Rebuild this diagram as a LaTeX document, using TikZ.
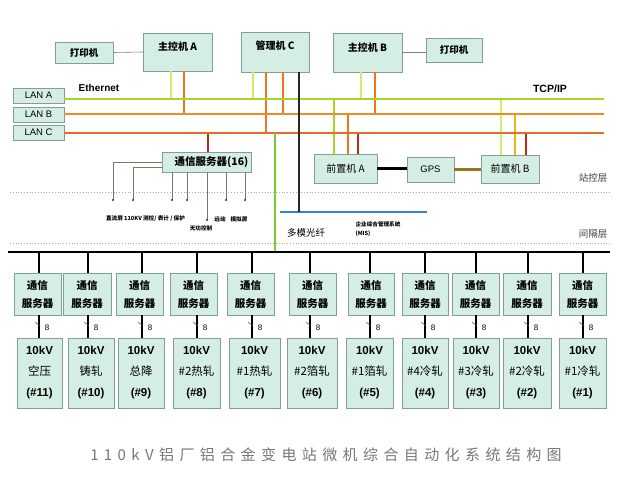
\documentclass[tikz,border=0pt]{standalone}
\usepackage{fontspec}
\setmainfont{Liberation Sans}
\newfontfamily\cjk{Noto Sans CJK SC}
\newfontfamily\cjktitle[LetterSpace=36]{Noto Sans CJK SC}
\definecolor{boxfill}{RGB}{212,238,228}
\definecolor{boxdraw}{RGB}{130,160,145}
\definecolor{lanAc}{RGB}{165,215,40}
\definecolor{lanBc}{RGB}{240,140,40}
\definecolor{lanCc}{RGB}{232,108,35}
\definecolor{ygc}{RGB}{212,234,105}
\definecolor{orc}{RGB}{240,118,30}
\definecolor{drc}{RGB}{178,48,20}
\definecolor{yoc}{RGB}{245,178,30}
\definecolor{grc}{RGB}{120,205,50}
\definecolor{bluec}{RGB}{50,130,220}
\definecolor{dotc}{RGB}{175,175,140}
\definecolor{thinc}{RGB}{120,120,100}
\definecolor{gpsc}{RGB}{150,118,30}
\definecolor{titlec}{RGB}{120,120,120}
\newcommand\mybox[6]{\node[box, minimum width={#4-#2}, minimum height={#5-#3}] (#1) at ({(#2+#4)/2},{(#3+#5)/2}) {#6};}
\begin{document}
\begin{tikzpicture}[x=1pt,y=-1pt,
  box/.style={draw=boxdraw, fill=boxfill, line width=0.7pt, inner sep=0pt, outer sep=0pt},
  cjkb/.style={font=\cjk\bfseries\fontsize{10}{12}\selectfont},
  lanline/.style={line width=2.3pt},
  vline/.style={line width=1.5pt},
  thinline/.style={draw=thinc, line width=0.5pt},
  dotline/.style={draw=dotc, line width=0.8pt, dotted},
  busdrop/.style={draw=black, line width=1.4pt},
  lbl/.style={font=\cjk\fontsize{9.5}{11}\selectfont, text=black!75, inner sep=0pt},
  tiny/.style={font=\cjk\bfseries\fontsize{5.6}{6}\selectfont, inner sep=0pt}]
\useasboundingbox[fill=white] (0,0) rectangle (622,487);

% layer lines
\draw[dotline] (10,192) -- (610,192);
\draw[dotline] (10,243) -- (610,243);

% top boxes
\mybox{prnA}{55}{42}{113}{63}{}
\mybox{mainA}{143}{33}{212}{71}{}
\mybox{mgrC}{241}{32}{309}{72}{}
\mybox{mainB}{333}{33}{402}{72}{}
\mybox{prnB}{426}{38}{482}{62}{}
\node[cjkb, font=\cjk\bfseries\fontsize{9.5}{11}\selectfont] at (prnA.center) {打印机};
\node[cjkb] at ([yshift=5]mainA.center) {主控机 A};
\node[cjkb] at ([yshift=6]mgrC.center) {管理机 C};
\node[cjkb] at ([yshift=5]mainB.center) {主控机 B};
\node[cjkb, font=\cjk\bfseries\fontsize{9.5}{11}\selectfont] at (prnB.center) {打印机};
\draw[draw=gray, line width=0.6pt] (prnA.east) -- (mainA.west);
\draw[draw=gray, line width=0.6pt] (mainB.east) -- (mainB.east -| prnB.west);

% LAN boxes
\mybox{lanA}{13}{88}{64}{103}{\fontsize{9.5}{11}\selectfont LAN A}
\mybox{lanB}{13}{107}{64}{122}{\fontsize{9.5}{11}\selectfont LAN B}
\mybox{lanC}{13}{125}{64}{140}{\fontsize{9.5}{11}\selectfont LAN C}
\coordinate (eA) at (604,99);
\coordinate (eB) at (604,114);
\coordinate (eC) at (604,133);
\node[font=\bfseries\fontsize{10}{12}\selectfont, inner sep=0pt] (eth) at (99,88) {Ethernet};
\node[font=\bfseries\fontsize{10.5}{12}\selectfont, inner sep=0pt] (tcp) at (550,89) {TCP/IP};

% middle boxes
\mybox{comm}{162}{152}{251}{172}{}
\node[cjkb, font=\cjk\bfseries\fontsize{10.5}{12}\selectfont] at ([xshift=5]comm.center) {通信服务器(16)};
\mybox{fepA}{314}{154}{377}{183}{\cjk\fontsize{10}{12}\selectfont 前置机 A}
\mybox{gps}{407}{157}{454}{182}{\fontsize{9.5}{11}\selectfont GPS}
\mybox{fepB}{481}{155}{539}{183}{\cjk\fontsize{10}{12}\selectfont 前置机 B}

% verticals into LANs
\draw[vline, draw=ygc] ([xshift=-6.5]mainA.south) -- ([xshift=-6.5]mainA.south |- eA);
\draw[vline, draw=orc] ([xshift=6.5]mainA.south) -- ([xshift=6.5]mainA.south |- eB);
\draw[vline, draw=ygc] ([xshift=-22]mgrC.south) -- ([xshift=-22]mgrC.south |- eA);
\draw[vline, draw=orc] ([xshift=-9]mgrC.south) -- ([xshift=-9]mgrC.south |- eC);
\draw[vline, draw=orc] ([xshift=8]mgrC.south) -- ([xshift=8]mgrC.south |- eB);
\draw[vline, draw=ygc] ([xshift=-6.5]mainB.south) -- ([xshift=-6.5]mainB.south |- eA);
\draw[vline, draw=orc] ([xshift=7.5]mainB.south) -- ([xshift=7.5]mainB.south |- eB);
\draw[vline, draw=lanAc] ([xshift=-11.5]fepA.north) -- ([xshift=-11.5]fepA.north |- eA);
\draw[vline, draw=orc] ([xshift=2.5]fepA.north) -- ([xshift=2.5]fepA.north |- eB);
\draw[vline, draw=drc] ([xshift=12.5]fepA.north) -- ([xshift=12.5]fepA.north |- eC);
\draw[vline, draw=ygc] ([xshift=-9]fepB.north) -- ([xshift=-9]fepB.north |- eA);
\draw[vline, draw=yoc] ([xshift=5]fepB.north) -- ([xshift=5]fepB.north |- eB);
\draw[vline, draw=drc] ([xshift=16]fepB.north) -- ([xshift=16]fepB.north |- eC);
\draw[vline, draw=drc] ([xshift=1.5]comm.north) -- ([xshift=1.5]comm.north |- eC);

% LAN lines
\draw[lanline, draw=lanAc] (lanA.east |- eA) -- (eA);
\draw[lanline, draw=lanBc] (lanB.east |- eB) -- (eB);
\draw[lanline, draw=lanCc] (lanC.east |- eC) -- (eC);

% bus, blue fibre line, green and black verticals
\coordinate (busL) at (8,252);
\coordinate (busR) at (610,252);
\coordinate (blueL) at (280,212);
\coordinate (blueR) at (427,212);
\draw[line width=2pt, draw=bluec] (blueL) -- (blueR);
\draw[line width=1.7pt, draw=black!85] ([xshift=24]mgrC.south) -- ([xshift=24]mgrC.south |- blueL);
\draw[line width=1.5pt, draw=grc] (mgrC.south |- eC) -- (mgrC.south |- busL);
\draw[line width=2.2pt, draw=black] (busL) -- (busR);

% GPS links
\draw[line width=2.4pt, draw=black] (fepA.east) -- (fepA.east -| gps.west);
\draw[line width=2.4pt, draw=gpsc] (gps.east) -- (gps.east -| fepB.west);

% comm server signal lines
\coordinate (d1) at (113,200);
\coordinate (d2) at (133,200);
\coordinate (d3) at (172,200);
\coordinate (d4) at (187,200);
\coordinate (d5) at (207,220);
\coordinate (d6) at (226,200);
\coordinate (d7) at (245,200);
\draw[thinline] (comm.west) -| (d1);
\draw[thinline] ([yshift=-5]comm.west) -| (d2);
\foreach \d in {d3,d4,d5,d6,d7} {\draw[thinline] (comm.south -| \d) -- (\d);}
\foreach \d in {d1,d2,d3,d4,d5,d6,d7} {\fill[black!80] (\d) circle (1.1);}
\node[tiny] at (145.5,219) {直流屏 110KV 测控/ 表计 / 保护};
\node[tiny] at (201,228) {无功控制};
\node[tiny] at (220,219) {远动};
\node[tiny] at (239,219) {模拟屏};

% labels
\node[lbl] at (593,178) {站控层};
\node[lbl] at (593,234) {间隔层};
\node[lbl, text=black] at (306,233) {多模光纤};
\node[tiny, align=center, font=\cjk\bfseries\fontsize{5.6}{8.5}\selectfont] at (378,229) {企业综合管理系统\\\hspace*{-30pt}(MIS)};

% bay level
\foreach \vx/\ta/\tb/\ba/\bb/\nm/\nu [count=\i] in {
  39/14/61/17/62/空压/11,
  88/63/111/68/114/铸轧/10,
  142/116/163/118/164/总降/9,
  197/170/217/173/220/\#2热轧/8,
  252/227/274/229/280/\#1热轧/7,
  310/289/336/287/337/\#2箔轧/6,
  370/348/394/346/393/\#1箔轧/5,
  425/402/448/402/448/\#4冷轧/4,
  476/452/499/453/499/\#3冷轧/3,
  528/503/551/503/551/\#2冷轧/2,
  583/559/606/559/606/\#1冷轧/1}
{
  \coordinate (v\i) at (\vx,252);
  \node[box, minimum width={\tb-\ta}, minimum height=42, align=center,
        font=\cjk\bfseries\fontsize{10.5}{18}\selectfont]
        (top\i) at ({(\ta+\tb)/2},294) {通信\\服务器};
  \node[box, minimum width={\bb-\ba}, minimum height=70, align=center,
        font=\fontsize{11.5}{21}\selectfont]
        (bot\i) at ({(\ba+\bb)/2},373) {\bfseries 10kV\\{\cjk\nm}\\\bfseries(\#\nu)};
  \draw[busdrop] (v\i) -- (top\i.north -| v\i);
  \draw[busdrop] (top\i.south -| v\i) -- (bot\i.north -| v\i);
  \draw[line width=0.5pt, draw=black!70] ({\vx-4},322) -- ({\vx+1},326);
  \node[font=\fontsize{8}{9}\selectfont, inner sep=0pt] (n\i) at ({\vx+8},328) {8};
}

% title
\node[font=\cjktitle\fontsize{15}{16}\selectfont, text=titlec, inner sep=0pt] (title) at (326,455) {110kV铝厂铝合金变电站微机综合自动化系统结构图};
\end{tikzpicture}
\end{document}
